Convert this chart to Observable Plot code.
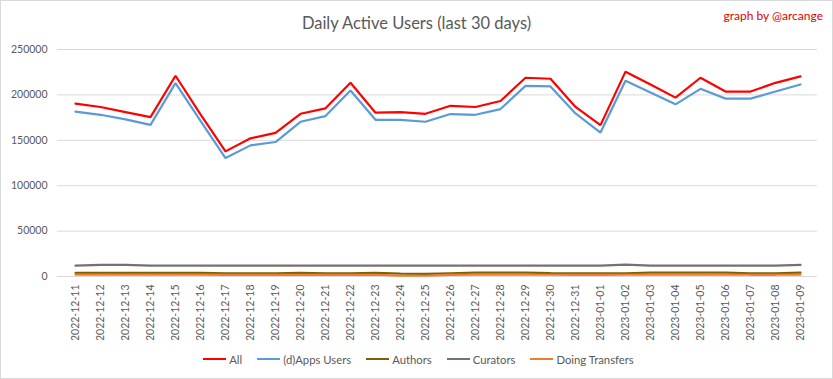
<!DOCTYPE html>
<html>
<head>
<meta charset="utf-8">
<script src="https://cdn.jsdelivr.net/npm/d3@7"></script>
<script src="https://cdn.jsdelivr.net/npm/@observablehq/plot@0.6"></script>
<style>
  html, body { margin: 0; padding: 0; background: #fff; }
  #wrap { position: relative; width: 833px; height: 379px; box-sizing: border-box; border: 1px solid #d9d9d9; font-family: Lato, "Open Sans", sans-serif; color: #595959; overflow: hidden; }
  #title { height: 40px; line-height: 44px; text-align: center; font-size: 16.5px; color: #595959; }
  #credit { position: absolute; right: 9px; top: 7px; font-size: 12px; color: #e00000; }
  #legend { height: 38px; display: flex; justify-content: center; align-items: center; font-size: 11.3px; color: #595959; gap: 15px; padding-left: 4px; }
  .item { display: flex; align-items: center; gap: 3px; }
  .sw { width: 23px; height: 2px; display: inline-block; }
  svg { display: block; }
</style>
</head>
<body>
<div id="wrap">
  <div id="title">Daily Active Users (last 30 days)</div>
  <div id="credit">graph by @arcange</div>
  <div id="chart"></div>
  <div id="legend"></div>
</div>
<script>
const dates = ["2022-12-11","2022-12-12","2022-12-13","2022-12-14","2022-12-15","2022-12-16","2022-12-17","2022-12-18","2022-12-19","2022-12-20",
  "2022-12-21","2022-12-22","2022-12-23","2022-12-24","2022-12-25","2022-12-26","2022-12-27","2022-12-28","2022-12-29","2022-12-30",
  "2022-12-31","2023-01-01","2023-01-02","2023-01-03","2023-01-04","2023-01-05","2023-01-06","2023-01-07","2023-01-08","2023-01-09"];
const allUsers = [190300,186700,181100,175500,221100,178500,137800,152200,158100,179200,
  185200,213300,180400,181100,179200,188000,186700,193300,218900,217800,
  186700,166700,225600,211500,197000,218900,203700,203700,213300,220400];
const appsUsers = [181500,178100,173000,167000,213000,171500,130400,144400,148100,170400,
  176700,204800,172600,172600,170400,178900,178100,184400,210000,209300,
  179600,158500,215600,202600,189600,206700,195900,195900,203700,211500];
const authors = [4000,4000,4000,4000,4000,4000,3500,3500,3500,4000,
  3500,3500,4000,3200,2800,3500,4200,4200,4200,3800,
  3500,3500,3500,4200,4200,4200,4200,3500,3500,4300];
const curators = [11900,12900,12900,11900,11900,11900,11900,11900,11900,11900,
  11900,11900,11900,11900,11900,11900,11900,11900,11900,11900,
  11900,11900,13000,11900,11900,11900,11900,11900,11900,12800];
const transfers = [2000,2000,2000,2000,2000,2000,1800,1800,1800,1900,
  1800,1800,1900,1000,800,1800,2000,2000,2000,1900,
  1800,1800,1900,2000,2000,2000,2000,1900,1900,2000];
const seriesNames = ["All","(d)Apps Users","Authors","Curators","Doing Transfers"];
const seriesColors = ["#ff0000","#5b9bd5","#7f6000","#767171","#ed7d31"];
const yTicks = [0,50000,100000,150000,200000,250000];

const seriesValues = [allUsers, appsUsers, authors, curators, transfers];
const rows = [];
seriesNames.forEach((name, s) => {
  dates.forEach((d, i) => rows.push({date: d, value: seriesValues[s][i], series: name}));
});

const chart = Plot.plot({
  width: 831,
  height: 299,
  marginTop: 8,
  marginBottom: 64,
  marginLeft: 56,
  marginRight: 15,
  style: {fontFamily: "Lato, 'Open Sans', sans-serif", fontSize: "10.5px", color: "#595959", background: "transparent"},
  x: {type: "point", domain: dates, padding: 0.5, label: null},
  y: {domain: [0, 250000], label: null},
  color: {domain: seriesNames, range: seriesColors},
  marks: [
    Plot.gridY(yTicks, {stroke: "#d9d9d9", strokeOpacity: 1}),
    Plot.axisY(yTicks, {tickSize: 0, tickPadding: 10, tickFormat: d => String(d), label: null}),
    Plot.axisX({tickSize: 0, tickRotate: -90, tickPadding: 8, label: null}),
    Plot.line(rows, {x: "date", y: "value", z: "series", stroke: "series", strokeWidth: 2.2, strokeLinejoin: "miter"})
  ]
});
document.getElementById("chart").appendChild(chart);

const legend = document.getElementById("legend");
seriesNames.forEach((name, i) => {
  const it = document.createElement("div");
  it.className = "item";
  const sw = document.createElement("span");
  sw.className = "sw";
  sw.style.background = seriesColors[i];
  const tx = document.createElement("span");
  tx.textContent = name;
  it.appendChild(sw); it.appendChild(tx);
  legend.appendChild(it);
});
</script>
</body>
</html>
